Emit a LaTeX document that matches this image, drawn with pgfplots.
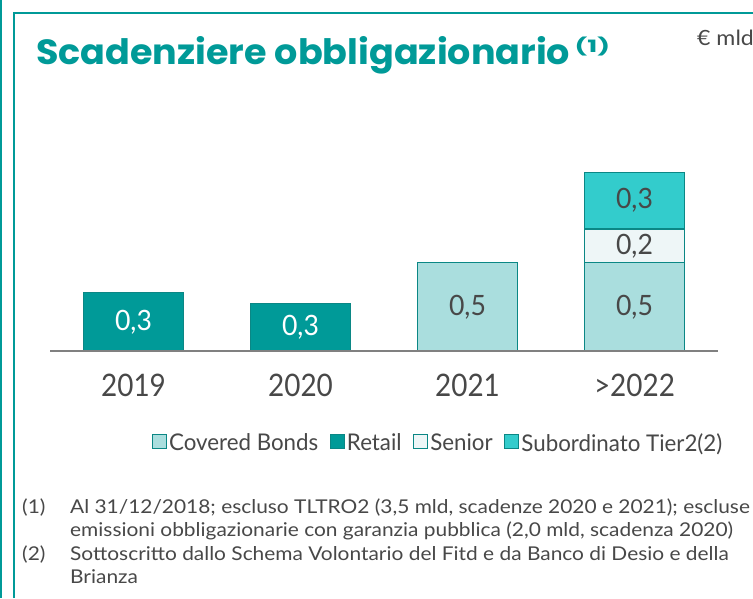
\documentclass[border=0pt]{standalone}
\usepackage{pgfplots}
\pgfplotsset{compat=1.18}
\usepackage{fontspec}
\setmainfont{Lato}
\newfontfamily\condfont[FakeStretch=0.9]{Lato}
\newfontfamily\barfont[FakeStretch=0.95]{Lato}
\newfontfamily\legfont[FakeStretch=0.97]{Lato}
\newfontfamily\notefont[FakeStretch=1.1]{Lato}
\newfontfamily\titlefont[FakeStretch=1.044]{Poppins}
\definecolor{teal1}{HTML}{009A98}
\definecolor{covered}{HTML}{AADEDE}
\definecolor{senior}{HTML}{EEF6F7}
\definecolor{subord}{HTML}{33CCCC}
\definecolor{edge}{HTML}{0B8785}
\definecolor{txt}{HTML}{484848}
\definecolor{axgray}{HTML}{808080}
\begin{document}
\begin{tikzpicture}
\clip (0pt,0pt) rectangle (753pt,598pt);
\fill[white] (0pt,0pt) rectangle (753pt,598pt);
\draw[teal1, line width=2.5pt] (1.2pt,0pt) -- (1.2pt,598pt);
\draw[teal1, line width=2.5pt] (14pt,0pt) -- (14pt,585pt) -- (760pt,585pt);
\node[anchor=base west, inner sep=0, text=teal1, font=\titlefont\bfseries\fontsize{35}{40}\selectfont] (title) at (36pt,533.7pt) {Scadenziere obbligazionario};
\node[anchor=base west, inner sep=0, text=teal1, font=\titlefont\bfseries\fontsize{17}{18}\selectfont] at ([xshift=4pt,yshift=12pt]title.base east) {\scalebox{1.5}[1]{(1)}};
\node[anchor=base west, inner sep=0, text=txt, font=\notefont\fontsize{21}{22}\selectfont] at (697pt,552pt) {€ mld};
\begin{axis}[
  at={(50pt,247pt)}, anchor=south west,
  scale only axis, width=668pt, height=194.5pt,
  xmin=-0.5, xmax=3.5, ymin=0, ymax=1.1,
  axis x line*=bottom, axis y line=none,
  x axis line style={axgray, line width=2pt},
  axis on top,
  xtick={0,1,2,3}, xticklabels={2019,2020,2021,{>2022}},
  major tick length=0pt, ytick=\empty,
  xticklabel style={anchor=base, yshift=-45pt, text=txt, font=\condfont\fontsize{31}{32}\selectfont},
  ybar stacked, bar width=100pt,
  nodes near coords,
  point meta=explicit symbolic,
  every node near coord/.style={anchor=center, font=\barfont\fontsize{28}{29}\selectfont, text=txt},
  legend style={at={(0.581,-0.473)}, anchor=center, draw=none, fill=none, inner sep=0pt,
     font=\legfont\fontsize{23}{24}\selectfont, text=txt,
     /tikz/every even column/.append style={column sep=9.5pt}},
  legend columns=-1,
  legend image code/.code={\draw[#1, line width=1.2pt] (0pt,-5.5pt) rectangle (14pt,8.5pt);},
]
\addplot[fill=covered, draw=edge, line width=1.5pt] table[x=x,y=y,meta=l] {
x y l
0 0 {}
1 0 {}
2 0.5 {0,5}
3 0.5 {0,5}
};
\addlegendentry{Covered Bonds}
\addplot[fill=teal1, draw=edge, line width=1.5pt, nodes near coords style={text=white}] table[x=x,y=y,meta=l] {
x y l
0 0.33 {0,3}
1 0.27 {0,3}
2 0 {}
3 0 {}
};
\addlegendentry{Retail}
\addplot[fill=senior, draw=edge, line width=1.5pt] table[x=x,y=y,meta=l] {
x y l
0 0 {}
1 0 {}
2 0 {}
3 0.19 {0,2}
};
\addlegendentry{Senior}
\addplot[fill=subord, draw=edge, line width=1.5pt] table[x=x,y=y,meta=l] {
x y l
0 0 {}
1 0 {}
2 0 {}
3 0.32 {0,3}
};
\addlegendentry{Subordinato Tier2(2)}
\end{axis}
\begin{scope}[every node/.style={anchor=base west, inner sep=0, text=txt, font=\notefont\fontsize{19}{22}\selectfont}]
\node at (22pt,85pt) {(1)};
\node at (70pt,85pt) {Al 31/12/2018; escluso TLTRO2 (3,5 mld, scadenze 2020 e 2021); escluse};
\node at (70pt,62pt) {emissioni obbligazionarie con garanzia pubblica (2,0 mld, scadenza 2020)};
\node at (22pt,38pt) {(2)};
\node at (70pt,38pt) {Sottoscritto dallo Schema Volontario del Fitd e da Banco di Desio e della};
\node at (70pt,15pt) {Brianza};
\end{scope}
\end{tikzpicture}
\end{document}
